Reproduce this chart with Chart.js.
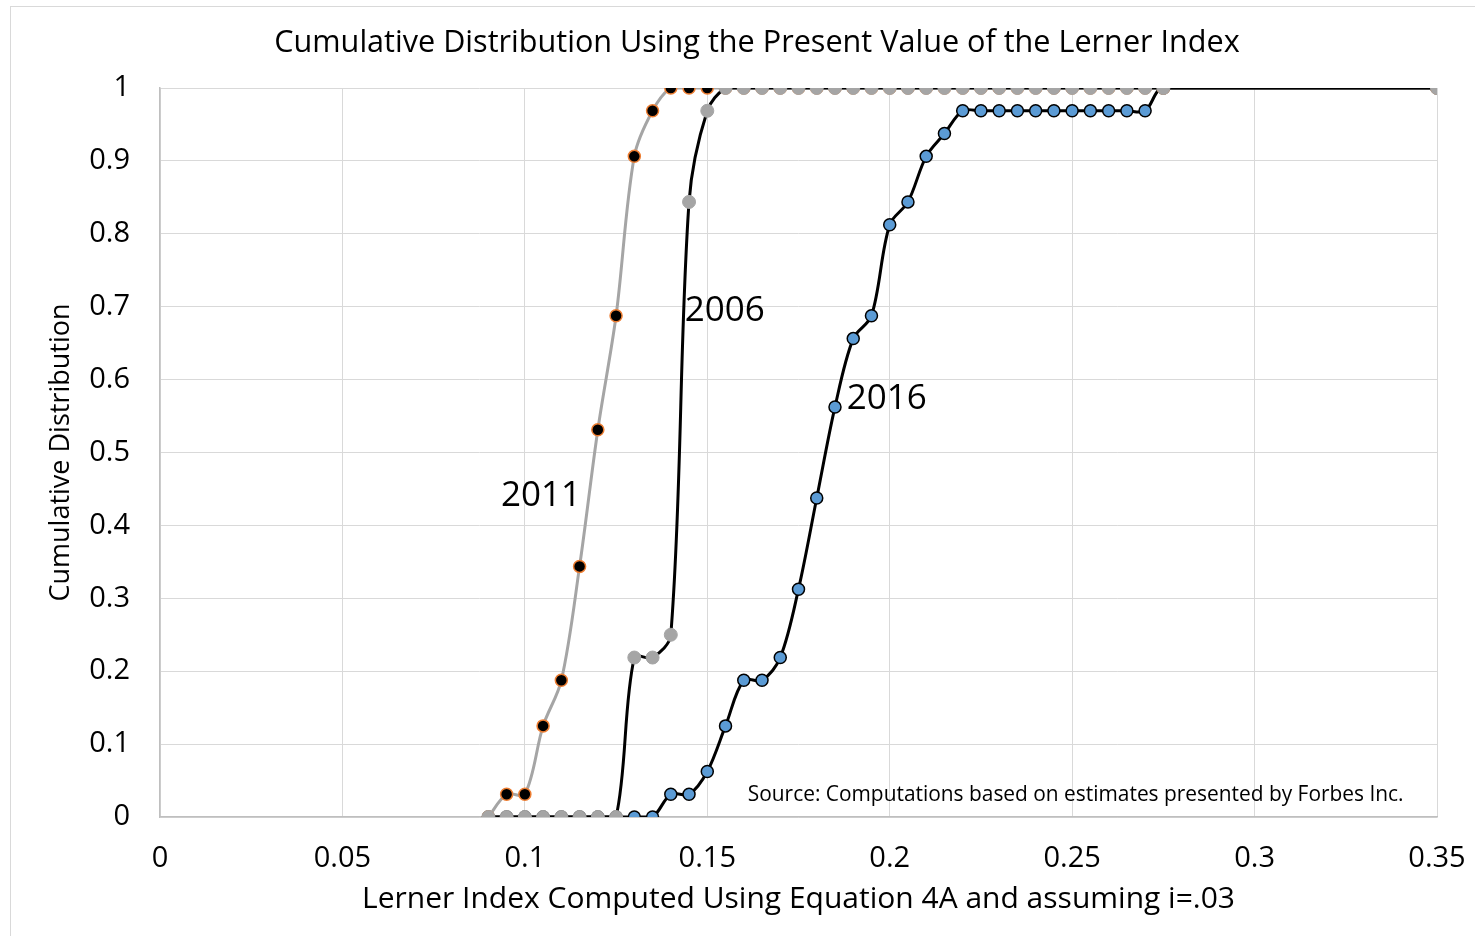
<!DOCTYPE html>
<html>
<head>
<meta charset="utf-8">
<script src="https://cdn.jsdelivr.net/npm/chart.js@4.4.1/dist/chart.umd.min.js"></script>
<style>
    html, body { margin: 0; padding: 0; background: #fff; overflow: hidden; }
    #wrap { position: relative; width: 1475px; height: 936px; }
    #cdfChart { position: absolute; left: 0; top: 0; }
    #frame { position: absolute; left: 10px; top: 6px; width: 1500px; height: 960px; border: 1px solid #d9d9d9; pointer-events: none; }
</style>
</head>
<body>
<div id="wrap">
    <canvas id="cdfChart" width="1475" height="936"></canvas>
    <div id="frame"></div>
</div>
<script>
// Lerner index values (x) shared by all three years
const lernerIdx = [0.09, 0.095, 0.1, 0.105, 0.11, 0.115, 0.12, 0.125, 0.13, 0.135,
                   0.14, 0.145, 0.15, 0.155, 0.16, 0.165, 0.17, 0.175, 0.18, 0.185,
                   0.19, 0.195, 0.2, 0.205, 0.21, 0.215, 0.22, 0.225, 0.23, 0.235,
                   0.24, 0.245, 0.25, 0.255, 0.26, 0.265, 0.27, 0.275, 0.35];

// Cumulative share of firms at or below each index value
const cdf2006 = [0, 0, 0, 0, 0, 0, 0, 0, 0.21875, 0.21875,
                 0.25, 0.84375, 0.96875, 1, 1, 1, 1, 1, 1, 1,
                 1, 1, 1, 1, 1, 1, 1, 1, 1, 1,
                 1, 1, 1, 1, 1, 1, 1, 1, 1];
const cdf2011 = [0, 0.03125, 0.03125, 0.125, 0.1875, 0.34375, 0.53125, 0.6875, 0.90625, 0.96875,
                 1, 1, 1, 1, 1, 1, 1, 1, 1, 1,
                 1, 1, 1, 1, 1, 1, 1, 1, 1, 1,
                 1, 1, 1, 1, 1, 1, 1, 1, 1];
const cdf2016 = [0, 0, 0, 0, 0, 0, 0, 0, 0, 0,
                 0.03125, 0.03125, 0.0625, 0.125, 0.1875, 0.1875, 0.21875, 0.3125, 0.4375, 0.5625,
                 0.65625, 0.6875, 0.8125, 0.84375, 0.90625, 0.9375, 0.96875, 0.96875, 0.96875, 0.96875,
                 0.96875, 0.96875, 0.96875, 0.96875, 0.96875, 0.96875, 0.96875, 1, 1];

const chartTitle = 'Cumulative Distribution Using the Present Value of the Lerner Index';
const xTitle = 'Lerner Index Computed Using Equation 4A and assuming i=.03';
const yTitle = 'Cumulative Distribution';
const sourceNote = 'Source: Computations based on estimates presented by Forbes Inc.';

// in-plot text labels, placed in data units
const plotLabels = [
    { text: '2011', x: 0.1044, y: 0.44, size: 35, align: 'center' },
    { text: '2006', x: 0.1548, y: 0.694, size: 35, align: 'center' },
    { text: '2016', x: 0.1992, y: 0.573, size: 35, align: 'center' },
    { text: sourceNote, x: 0.1611, y: 0.03, size: 20.9, align: 'left' }
];

const FONT = "'Open Sans', 'Noto Sans', sans-serif";

function toPoints(ys) {
    return lernerIdx.map((x, i) => ({ x: x, y: ys[i] }));
}

const labelPlugin = {
    id: 'plotLabels',
    afterDatasetsDraw(chart) {
        const { ctx, scales } = chart;
        ctx.save();
        ctx.fillStyle = '#000';
        ctx.textBaseline = 'middle';
        plotLabels.forEach(l => {
            ctx.font = `${l.size}px ${FONT}`;
            ctx.textAlign = l.align;
            ctx.fillText(l.text, scales.x.getPixelForValue(l.x), scales.y.getPixelForValue(l.y));
        });
        // chart title sits centred on the whole frame, not on the plot
        ctx.font = `30.6px ${FONT}`;
        ctx.textAlign = 'center';
        ctx.fillText(chartTitle, 757, 43);
        ctx.restore();
    }
};

const tickFmt = v => String(+Number(v).toFixed(2));

new Chart(document.getElementById('cdfChart').getContext('2d'), {
    type: 'line',
    data: {
        datasets: [
            {
                label: '2006',
                data: toPoints(cdf2006),
                borderColor: '#000',
                borderWidth: 3,
                pointRadius: 6.5,
                pointBackgroundColor: '#a5a5a5',
                pointBorderColor: '#a5a5a5',
                pointBorderWidth: 1,
                tension: 0.33
            },
            {
                label: '2011',
                data: toPoints(cdf2011),
                borderColor: '#a5a5a5',
                borderWidth: 3,
                pointRadius: 6,
                pointBackgroundColor: '#000',
                pointBorderColor: '#ed7d31',
                pointBorderWidth: 1.5,
                tension: 0.33
            },
            {
                label: '2016',
                data: toPoints(cdf2016),
                borderColor: '#000',
                borderWidth: 3,
                pointRadius: 6,
                pointBackgroundColor: '#5b9bd5',
                pointBorderColor: '#000',
                pointBorderWidth: 1.5,
                tension: 0.33
            }
        ]
    },
    options: {
        responsive: false,
        animation: false,
        layout: { padding: { left: 0, right: 38, top: 88, bottom: 0 } },
        plugins: {
            legend: { display: false },
            tooltip: { enabled: false },
            title: { display: false }
        },
        scales: {
            x: {
                type: 'linear',
                min: 0,
                max: 0.35,
                ticks: {
                    stepSize: 0.05,
                    color: '#000',
                    padding: 24,
                    font: { family: FONT, size: 29 },
                    callback: tickFmt
                },
                grid: { color: '#d9d9d9', lineWidth: 1, drawTicks: false },
                border: { color: '#bfbfbf', width: 1.5 },
                title: {
                    display: true,
                    text: xTitle,
                    color: '#000',
                    font: { family: FONT, size: 30 },
                    padding: 19
                },
                afterFit(scale) {
                    scale.height = 119;
                    // the end labels have room in the right padding already
                    scale.paddingRight = 0;
                    scale.paddingLeft = 0;
                }
            },
            y: {
                min: 0,
                max: 1,
                ticks: {
                    stepSize: 0.1,
                    color: '#000',
                    padding: 30,
                    font: { family: FONT, size: 29 },
                    callback: tickFmt
                },
                grid: { color: '#d9d9d9', lineWidth: 1, drawTicks: false },
                border: { color: '#bfbfbf', width: 1.5 },
                title: {
                    display: true,
                    text: yTitle,
                    color: '#000',
                    font: { family: FONT, size: 27 },
                    padding: 45
                },
                afterFit(scale) {
                    scale.width = 160;
                    scale.paddingTop = 0;
                    scale.paddingBottom = 0;
                }
            }
        }
    },
    plugins: [labelPlugin]
});
</script>
</body>
</html>
